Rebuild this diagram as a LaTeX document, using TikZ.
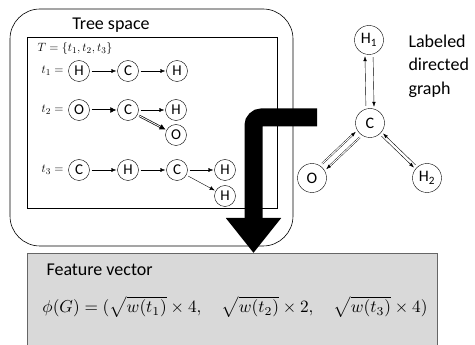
\documentclass[tikz,border=0pt]{standalone}
\usepackage{fontspec}
\setmainfont{Carlito}
\usepackage{graphicx}
\usetikzlibrary{arrows.meta}

\begin{document}
\begin{tikzpicture}[x=1pt,y=-1pt,
  atom/.style={draw, circle, inner sep=0pt, minimum size=21pt, font=\fontsize{15}{18}\selectfont},
  gatom/.style={draw, circle, inner sep=0pt, minimum size=29pt, font=\fontsize{16}{19}\selectfont},
  tarr/.style={-{Latex[length=5pt,width=4pt]}, shorten <=2pt, shorten >=1pt},
  dblarr/.style={line width=0.7pt, double, double distance=0.8pt, -{Latex[length=6pt,width=6pt]}, shorten <=2pt, shorten >=1pt},
  garr/.style={-{Latex[length=5pt,width=3.5pt]}, shorten <=3pt, shorten >=2pt},
  lbl/.style={font=\fontsize{13}{15}\selectfont}]
\useasboundingbox (0,0) rectangle (475,345);
\draw[rounded corners=30pt, line width=0.6pt] (10,9) rectangle (293,246);
\draw[line width=0.6pt] (27,37) rectangle (277,208);
\node[font=\fontsize{18}{21}\selectfont] (treetitle) at (111,25) {Tree space};
\node[draw=black!60, fill=black!15, minimum width=410pt, minimum height=100pt, anchor=north west] (fvbox) at (27,253) {};
\node[lbl, anchor=west] (tset) at (34,49) {$T=\{t_1,t_2,t_3\}$};
\node[lbl, anchor=east] (t1lab) at (67,71) {$t_1=$};
\node[atom] (a1) at (79,71) {H};
\node[atom] (a2) at (128,71) {C};
\node[atom] (a3) at (177,71) {H};
\draw[tarr] (a1) -- (a2);
\draw[tarr] (a2) -- (a3);
\node[lbl, anchor=east] (t2lab) at (67,110) {$t_2=$};
\node[atom] (b1) at (79,110) {O};
\node[atom] (b2) at (128,110) {C};
\node[atom] (b3) at (176,110) {H};
\node[atom] (b4) at (176,135) {O};
\draw[dblarr] (b1) -- (b2);
\draw[tarr] (b2) -- (b3);
\draw[dblarr] (b2) -- (b4);
\node[lbl, anchor=east] (t3lab) at (67,170) {$t_3=$};
\node[atom] (c1) at (79,170) {C};
\node[atom] (c2) at (128,170) {H};
\node[atom] (c3) at (177,170) {C};
\node[atom] (c4) at (225,170) {H};
\node[atom] (c5) at (225,196) {H};
\draw[tarr] (c1) -- (c2);
\draw[tarr] (c2) -- (c3);
\draw[tarr] (c3) -- (c4);
\draw[tarr] (c3) -- (c5);
\node[gatom] (h1) at (369,40) {H\textsubscript{1}};
\node[gatom] (cc) at (370,123) {C};
\node[gatom] (oo) at (312,178) {O};
\node[gatom] (h2) at (427,178) {H\textsubscript{2}};
\node[anchor=north west, align=left, font=\fontsize{18}{23.5}\selectfont] (gtitle) at (405,31) {Labeled\\directed\\graph};
\draw[garr] (cc.106) -- (h1.254);
\draw[garr] (h1.286) -- (cc.74);
\draw[garr, double, double distance=1pt] (oo.57) -- (cc.210);
\draw[garr, double, double distance=1pt] (cc.237) -- (oo.30);
\draw[garr] (h2.130) -- (cc.-38);
\draw[garr] (cc.-50) -- (h2.142);
\coordinate (graphout) at (317,117.5);
\coordinate (fvin) at (253.5,253);
\draw[line width=18pt, rounded corners=8pt, -{Triangle[length=35pt,width=53pt]}] (graphout) -| (fvin);
\node[font=\fontsize{18}{21}\selectfont, anchor=west] (fvtitle) at (43,270) {Feature vector};
\node (phi) at (235,307) {\resizebox{385pt}{!}{$\phi(G)=(\sqrt{w(t_1)}\times4,\quad \sqrt{w(t_2)}\times2,\quad \sqrt{w(t_3)}\times4)$}};
\end{tikzpicture}
\end{document}
